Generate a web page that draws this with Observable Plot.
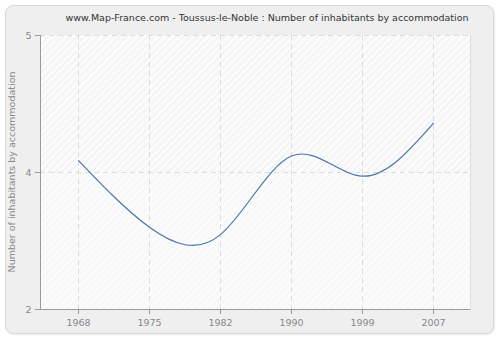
<!DOCTYPE html>
<html>
<head>
<meta charset="utf-8">
<script src="https://cdn.jsdelivr.net/npm/d3@7"></script>
<script src="https://cdn.jsdelivr.net/npm/@observablehq/plot@0.6"></script>
<style>
  html, body { margin: 0; padding: 0; background: #ffffff; }
  #wrap { position: relative; width: 500px; height: 340px; overflow: hidden; }
  #panel { position: absolute; left: 5px; top: 5px; width: 487px; height: 327px;
           border: 1px solid #d9d9d9; border-radius: 8px; background: #efefef;
           box-shadow: 1px 1px 2px rgba(0,0,0,0.08); }
  #title { position: absolute; top: 12px; left: 40px; width: 454px; text-align: center;
           font-family: "DejaVu Sans", Verdana, sans-serif; font-size: 9.5px; color: #333; white-space: nowrap; }
  #chart { position: absolute; left: 0; top: 0; }
</style>
</head>
<body>
<div id="wrap">
  <div id="panel"></div>
  <div id="title">www.Map-France.com - Toussus-le-Noble : Number of inhabitants by accommodation</div>
  <div id="chart"></div>
</div>
<script>
const years = ["1968", "1975", "1982", "1990", "1999", "2007"];
const values = [3.63, 2.90, 2.82, 3.68, 3.46, 4.04];
const yTicks = [2, 3.5, 5];
const yTickLabels = ["2", "4", "5"];
const yLabel = "Number of inhabitants by accommodation";

const data = years.map((y, i) => ({year: y, value: values[i]}));
const upperBand = [{lo: yTicks[1], hi: yTicks[2]}];

const axisLines = (index, scales, values, dim) => {
  const g = d3.create("svg:g");
  const x0 = dim.marginLeft, x1 = dim.width - dim.marginRight;
  const y0 = dim.marginTop, y1 = dim.height - dim.marginBottom;
  g.append("line").attr("x1", x0 + 0.5).attr("x2", x0 + 0.5).attr("y1", y0).attr("y2", y1 + 0.5)
    .attr("stroke", "#9a9a9a").attr("stroke-width", 1);
  g.append("line").attr("x1", x0).attr("x2", x1).attr("y1", y1 + 0.5).attr("y2", y1 + 0.5)
    .attr("stroke", "#9a9a9a").attr("stroke-width", 1);
  return g.node();
};

const chart = Plot.plot({
  width: 500,
  height: 340,
  marginLeft: 40,
  marginRight: 30,
  marginTop: 35,
  marginBottom: 31,
  style: {background: "transparent", fontFamily: "DejaVu Sans, Verdana, sans-serif", fontSize: "9.5px", color: "#888"},
  x: {type: "point", domain: years, padding: 0.5, label: null},
  y: {domain: [2, 5], label: null},
  marks: [
    Plot.frame({fill: "url(#hatchLow)", stroke: "#dddddd"}),
    Plot.rect(upperBand, {y1: "lo", y2: "hi", fill: "url(#hatchHigh)"}),
    Plot.gridX(years, {stroke: "#dcdcdc", strokeOpacity: 1, strokeDasharray: "5,4"}),
    Plot.gridY(yTicks.slice(1), {stroke: "#dcdcdc", strokeOpacity: 1, strokeDasharray: "5,4"}),
    Plot.axisX(years, {tickSize: 5, tickPadding: 5, stroke: "#9a9a9a", fill: "#888", fontSize: 9.5}),
    Plot.axisY(yTicks, {tickSize: 5, tickPadding: 4, stroke: "#9a9a9a", fill: "#888", fontSize: 9.5,
      tickFormat: d => yTickLabels[yTicks.indexOf(d)], label: null}),
    axisLines,
    Plot.line(data, {x: "year", y: "value", curve: "natural", stroke: "#4a76ae", strokeWidth: 1.2})
  ]
});

// pattern definitions for the hatched plot background
const svg = d3.select(chart);
const defs = svg.insert("defs", ":first-child");
function hatch(id, bg, line) {
  const p = defs.append("pattern").attr("id", id).attr("patternUnits", "userSpaceOnUse")
    .attr("width", 5).attr("height", 5).attr("patternTransform", "rotate(45)");
  p.append("rect").attr("width", 5).attr("height", 5).attr("fill", bg);
  p.append("line").attr("x1", 0).attr("y1", 0).attr("x2", 0).attr("y2", 5)
    .attr("stroke", line).attr("stroke-width", 1.5);
}
hatch("hatchLow", "#fbfbfb", "#f2f2f2");
hatch("hatchHigh", "#fbfbfb", "#ebebeb");

// rotated y-axis label
svg.append("text")
  .attr("transform", "translate(15,172) rotate(-90)")
  .attr("text-anchor", "middle")
  .attr("fill", "#888")
  .attr("font-size", 9.5)
  .attr("font-family", "DejaVu Sans, Verdana, sans-serif")
  .text(yLabel);

document.getElementById("chart").appendChild(chart);
</script>
</body>
</html>
